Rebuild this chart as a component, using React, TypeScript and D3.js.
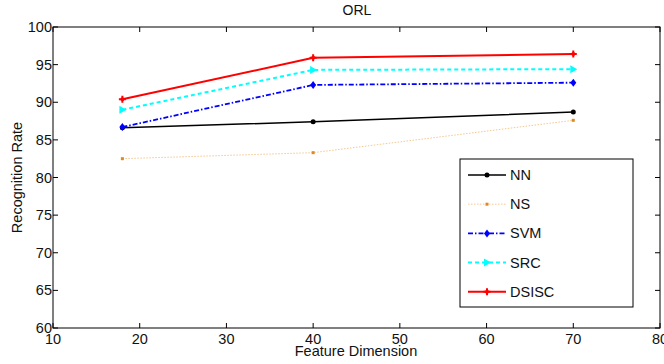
import * as d3 from 'd3';
import React, { useEffect, useRef } from 'react';

const dims = [18, 40, 70];
const seriesNames = ['NN', 'NS', 'SVM', 'SRC', 'DSISC'];
const nnValues = [86.6, 87.4, 88.7];
const nsValues = [82.5, 83.3, 87.6];
const svmValues = [86.7, 92.3, 92.6];
const srcValues = [89.0, 94.3, 94.4];
const dsiscValues = [90.4, 95.9, 96.4];
const xTicks = [10, 20, 30, 40, 50, 60, 70, 80];
const yTicks = [60, 65, 70, 75, 80, 85, 90, 95, 100];

export default function App() {
  const svgRef = useRef(null);
  const width = 664;
  const height = 364;

  useEffect(() => {
    const svg = d3.select(svgRef.current);
    svg.selectAll('*').remove();

    const left = 53, right = 660, top = 27, bottom = 328;
    const x = d3.scaleLinear().domain([10, 80]).range([left, right]);
    const y = d3.scaleLinear().domain([60, 100]).range([bottom, top]);
    const font = 'Liberation Sans, Arial, sans-serif';
    const fs = '14.5px';

    const styles = [
      { name: seriesNames[0], values: nnValues, color: '#000000', dash: null, width: 1.5, marker: 'dot', mcolor: '#000' },
      { name: seriesNames[1], values: nsValues, color: '#f5c890', dash: '1.5,1.5', width: 1, marker: 'square', mcolor: '#e08a1c' },
      { name: seriesNames[2], values: svmValues, color: '#0000ff', dash: '5,2,1.5,2', width: 1.8, marker: 'diamond', mcolor: '#0000ff' },
      { name: seriesNames[3], values: srcValues, color: '#00ffff', dash: '4,3', width: 2, marker: 'triangle', mcolor: '#00ffff' },
      { name: seriesNames[4], values: dsiscValues, color: '#ff0000', dash: null, width: 2, marker: 'plus', mcolor: '#ff0000' },
    ];

    // box
    svg.append('rect')
      .attr('x', left).attr('y', top)
      .attr('width', right - left).attr('height', bottom - top)
      .attr('fill', 'white').attr('stroke', '#000').attr('stroke-width', 1);

    // ticks (inward, all sides)
    const tl = 5;
    xTicks.forEach(t => {
      const px = x(t);
      svg.append('line').attr('x1', px).attr('x2', px).attr('y1', bottom).attr('y2', bottom - tl).attr('stroke', '#000');
      svg.append('line').attr('x1', px).attr('x2', px).attr('y1', top).attr('y2', top + tl).attr('stroke', '#000');
      svg.append('text').attr('x', px).attr('y', bottom + 16)
        .attr('text-anchor', 'middle').style('font-family', font).style('font-size', fs).attr('fill', '#111').text(t);
    });
    yTicks.forEach(t => {
      const py = y(t);
      svg.append('line').attr('x1', left).attr('x2', left + tl).attr('y1', py).attr('y2', py).attr('stroke', '#000');
      svg.append('line').attr('x1', right).attr('x2', right - tl).attr('y1', py).attr('y2', py).attr('stroke', '#000');
      svg.append('text').attr('x', left - 1).attr('y', py + 5)
        .attr('text-anchor', 'end').style('font-family', font).style('font-size', fs).attr('fill', '#111').text(t);
    });

    const drawMarker = (g, kind, cx, cy, c) => {
      if (kind === 'dot') g.append('circle').attr('cx', cx).attr('cy', cy).attr('r', 2.5).attr('fill', c);
      else if (kind === 'square') g.append('rect').attr('x', cx - 1.5).attr('y', cy - 1.5).attr('width', 3).attr('height', 3).attr('fill', c);
      else if (kind === 'diamond') g.append('path').attr('d', `M${cx},${cy - 4}L${cx + 3},${cy}L${cx},${cy + 4}L${cx - 3},${cy}Z`).attr('fill', c);
      else if (kind === 'triangle') g.append('path').attr('d', `M${cx - 3},${cy - 4}L${cx + 4},${cy}L${cx - 3},${cy + 4}Z`).attr('fill', c);
      else if (kind === 'plus') {
        g.append('path').attr('d', `M${cx - 3.5},${cy}L${cx + 3.5},${cy}M${cx},${cy - 3.5}L${cx},${cy + 3.5}`).attr('stroke', c).attr('stroke-width', 2);
        g.append('circle').attr('cx', cx).attr('cy', cy).attr('r', 2).attr('fill', c);
      }
    };

    const line = d3.line<number>().x((d, i) => x(dims[i])).y(d => y(d));
    styles.forEach(s => {
      const g = svg.append('g');
      g.append('path').attr('d', line(s.values)).attr('fill', 'none')
        .attr('stroke', s.color).attr('stroke-width', s.width)
        .attr('stroke-dasharray', s.dash);
      s.values.forEach((v, i) => drawMarker(g, s.marker, x(dims[i]), y(v), s.mcolor));
    });

    // legend
    const lg = svg.append('g');
    lg.append('rect').attr('x', 460).attr('y', 159).attr('width', 173).attr('height', 148)
      .attr('fill', 'white').attr('stroke', '#000').attr('stroke-width', 1);
    styles.forEach((s, i) => {
      const ly = 175 + i * 29.2;
      lg.append('line').attr('x1', 468).attr('x2', 506).attr('y1', ly).attr('y2', ly)
        .attr('stroke', s.color).attr('stroke-width', s.width).attr('stroke-dasharray', s.dash);
      drawMarker(lg, s.marker, 487, ly, s.mcolor);
      lg.append('text').attr('x', 510).attr('y', ly + 5)
        .style('font-family', font).style('font-size', fs).attr('fill', '#111').text(s.name);
    });

    svg.append('text').attr('x', 357).attr('y', 15).attr('text-anchor', 'middle')
      .style('font-family', font).style('font-size', '14px').attr('fill', '#111').text('ORL');
    svg.append('text').attr('x', 356).attr('y', 356).attr('text-anchor', 'middle')
      .style('font-family', font).style('font-size', fs).attr('fill', '#111').text('Feature Dimension');
    svg.append('text').attr('transform', `translate(22,${(top + bottom) / 2}) rotate(-90)`).attr('text-anchor', 'middle')
      .style('font-family', font).style('font-size', fs).attr('fill', '#111').text('Recognition Rate');
  }, []);

  return (
    <svg ref={svgRef} width={width} height={height}
      style={{ position: 'absolute', left: 0, top: 0, background: 'white' }} />
  );
}
